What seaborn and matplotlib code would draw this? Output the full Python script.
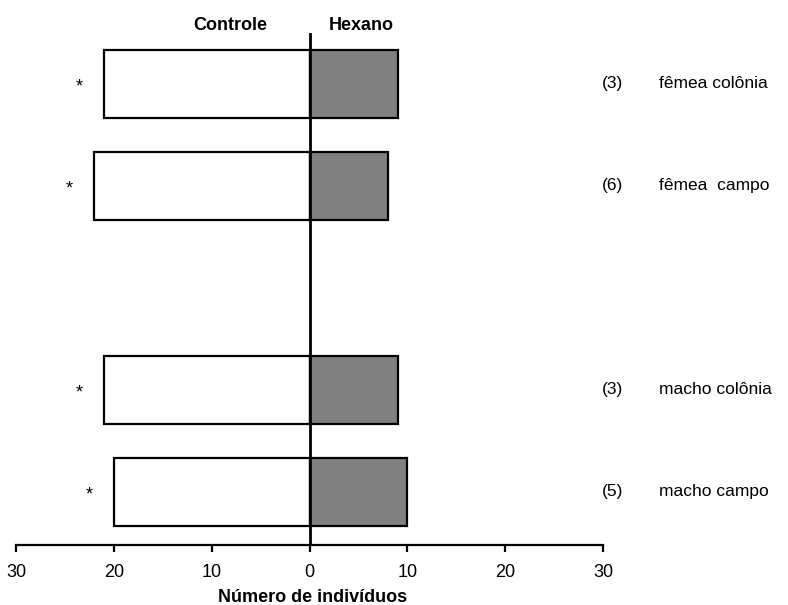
import matplotlib
matplotlib.use("Agg")
import matplotlib.pyplot as plt
import seaborn as sns
import pandas as pd

sns.set_theme(style="white")
plt.rcParams['font.family'] = ['Liberation Sans', 'DejaVu Sans']
plt.rcParams['text.color'] = 'black'
plt.rcParams['xtick.color'] = 'black'
plt.rcParams['axes.labelcolor'] = 'black'

groups = ["fêmea colônia", "fêmea  campo", "macho colônia", "macho campo"]
n_labels = ["(3)", "(6)", "(3)", "(5)"]
positions = [0, 1, 3, 4]
controle = [21, 22, 21, 20]
hexano = [9, 8, 9, 10]
signif = ["*", "*", "*", "*"]
tick_values = [-30, -20, -10, 0, 10, 20, 30]
tick_labels = ["30", "20", "10", "0", "10", "20", "30"]

df = pd.DataFrame({"pos": positions, "controle": [-v for v in controle], "hexano": hexano})

W, H = 788, 605
fig = plt.figure(figsize=(W / 100, H / 100), dpi=100)
ax = fig.add_axes([16 / W, (H - 545) / H, (603 - 16) / W, 512 / H])

sns.barplot(data=df, x="controle", y="pos", orient="y", native_scale=True, width=0.67,
            color="white", edgecolor="black", linewidth=1.6, ax=ax, errorbar=None)
sns.barplot(data=df, x="hexano", y="pos", orient="y", native_scale=True, width=0.67,
            color="#808080", edgecolor="black", linewidth=1.6, ax=ax, errorbar=None)
for i, p in enumerate(ax.patches):
    if i < len(positions):
        p.set_facecolor("white")
    else:
        p.set_facecolor("#808080")

ax.set_xlim(-30, 30)
ax.set_ylim(4.52, -0.5)
ax.axvline(0, color="black", lw=2.0, zorder=5)

for s in ["top", "right", "left"]:
    ax.spines[s].set_visible(False)
ax.spines["bottom"].set_color("black")
ax.spines["bottom"].set_linewidth(1.6)
ax.set_yticks([])
ax.set_ylabel("")
ax.set_xticks(tick_values)
ax.set_xticklabels(tick_labels)
ax.tick_params(axis="x", direction="out", length=5, width=1.6, color="black",
               labelcolor="black", labelsize=13, pad=9, bottom=True)
ax.set_xlabel("")

for pos, c, s, n, g in zip(positions, controle, signif, n_labels, groups):
    ax.annotate(s, xy=(-c, pos), xytext=(-18, -2), textcoords="offset points",
                ha="center", va="center", fontsize=13, color="black")
    ax.text(30.95, pos, n, ha="center", va="center", fontsize=12.5, clip_on=False, color="black")
    ax.text(35.7, pos, g, ha="left", va="center", fontsize=12.5, clip_on=False, color="black")

fig.text(230 / W, 1 - 25 / H, "Controle", ha="center", va="center", fontsize=13,
         fontweight="bold", color="black")
fig.text(361 / W, 1 - 25 / H, "Hexano", ha="center", va="center", fontsize=13,
         fontweight="bold", color="black")
fig.text(313 / W, 1 - 597 / H, "Número de indivíduos", ha="center", va="center",
         fontsize=13, fontweight="bold", color="black")

fig.savefig("out.png", dpi=100, facecolor="white")
